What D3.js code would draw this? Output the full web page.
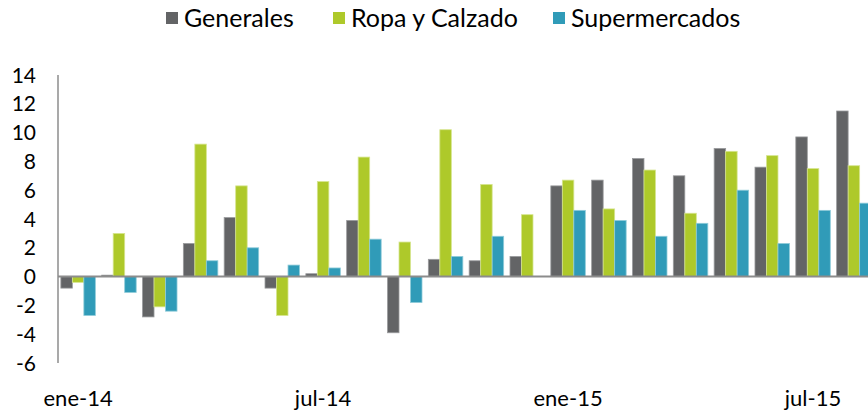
<!DOCTYPE html>
<html>
<head>
<meta charset="utf-8">
<script src="https://cdn.jsdelivr.net/npm/d3@7.9.0/dist/d3.min.js"></script>
<style>
  body { margin: 0; background: #fff; }
  svg text { font-family: Lato, "Open Sans", sans-serif; fill: #000; }
</style>
</head>
<body>
<svg width="868" height="411"></svg>
<script>
// months shown on the x axis (only every 6th one is labelled)
const months = ['ene-14','feb-14','mar-14','abr-14','may-14','jun-14','jul-14','ago-14','sep-14','oct-14',
  'nov-14','dic-14','ene-15','feb-15','mar-15','abr-15','may-15','jun-15','jul-15','ago-15'];
const tickLabels = ['ene-14','jul-14','ene-15','jul-15'];
const yTicks = [-6,-4,-2,0,2,4,6,8,10,12,14];

const seriesNames = ['Generales','Ropa y Calzado','Supermercados'];
const generales = [-0.8,0.1,-2.8,2.3,4.1,-0.8,0.2,3.9,-3.9,1.2,1.1,1.4,6.3,6.7,8.2,7.0,8.9,7.6,9.7,11.5];
const ropa = [-0.4,3.0,-2.1,9.2,6.3,-2.7,6.6,8.3,2.4,10.2,6.4,4.3,6.7,4.7,7.4,4.4,8.7,8.4,7.5,7.7];
const super_ = [-2.7,-1.1,-2.4,1.1,2.0,0.8,0.6,2.6,-1.8,1.4,2.8,0,4.6,3.9,2.8,3.7,6.0,2.3,4.6,5.1];
const colors = ['#636466','#aec92a','#309bb8'];
const edges = ['#9a9b9d','#d6e58f','#8fcbd9'];

const svg = d3.select('svg');

// scales
let x = d3.scaleBand().domain(months).range([58, 874]).paddingInner(0.155).paddingOuter(0.07);
let x1 = d3.scaleBand().domain(seriesNames).range([0, x.bandwidth()]);
let y = d3.scaleLinear().domain([-6, 14]).range([363, 75]);

// bars
let allSeries = [generales, ropa, super_];
allSeries.forEach((vals, s) => {
  svg.append('g').selectAll('rect')
    .data(vals)
    .join('rect')
    .attr('x', (d, i) => x(months[i]) + x1(seriesNames[s]))
    .attr('y', d => y(Math.max(0, d)))
    .attr('width', x1.bandwidth())
    .attr('height', d => Math.abs(y(d) - y(0)))
    .attr('fill', colors[s])
    .attr('stroke', edges[s])
    .attr('stroke-width', 0.8);
});

// y axis line + labels
svg.append('line')
  .attr('x1', 58).attr('x2', 58)
  .attr('y1', y(14)).attr('y2', y(-6))
  .attr('stroke', '#8c8c8c').attr('stroke-width', 1.5);

svg.append('g').selectAll('text')
  .data(yTicks)
  .join('text')
  .attr('x', 36)
  .attr('y', d => y(d))
  .attr('dy', '0.36em')
  .attr('text-anchor', 'end')
  .attr('font-size', 21)
  .text(d => d);

// zero line
svg.append('line')
  .attr('x1', 58).attr('x2', 868)
  .attr('y1', y(0)).attr('y2', y(0))
  .attr('stroke', '#8c8c8c').attr('stroke-width', 2);

// x labels
svg.append('g').selectAll('text')
  .data(tickLabels)
  .join('text')
  .attr('x', d => x(d) + x.bandwidth() / 2)
  .attr('y', 406)
  .attr('text-anchor', 'middle')
  .attr('font-size', 22)
  .text(d => d);

// legend
const legendX = [166, 333, 553];
seriesNames.forEach((name, i) => {
  let g = svg.append('g').attr('transform', `translate(${legendX[i]},18)`);
  g.append('rect').attr('x', 0).attr('y', -6).attr('width', 12).attr('height', 12).attr('fill', colors[i]);
  g.append('text').attr('x', 18).attr('y', 0).attr('dy', '0.36em').attr('font-size', 25).text(name);
});
</script>
</body>
</html>
